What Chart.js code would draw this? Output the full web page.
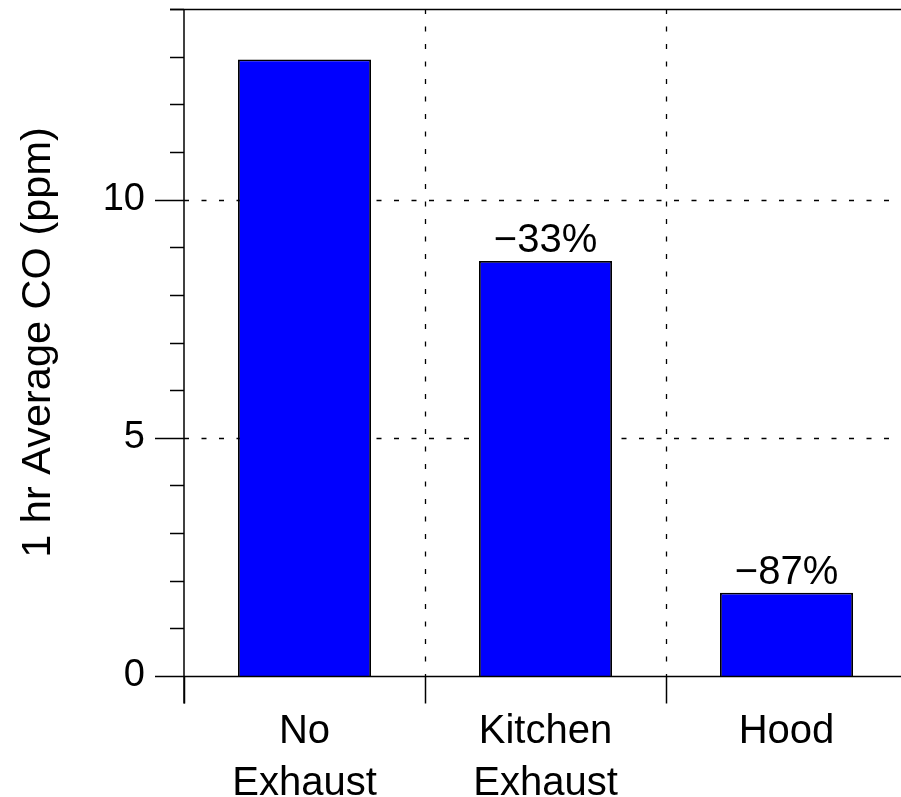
<!DOCTYPE html>
<html>
<head>
<meta charset="utf-8">
<script src="https://cdn.jsdelivr.net/npm/chart.js@4/dist/chart.umd.min.js"></script>
<style>
  html, body { margin: 0; padding: 0; background: #fff; overflow: hidden; }
  #wrap { width: 920px; height: 797px; }
</style>
</head>
<body>
<div id="wrap"><canvas id="c" width="920" height="797"></canvas></div>
<script>
const categories = [["No", "Exhaust"], ["Kitchen", "Exhaust"], ["Hood"]];
const coValues = [12.94, 8.71, 1.75];
const percentLabels = ["", "\u221233%", "\u221287%"];
const majorTicks = [0, 5, 10];
const yTitle = "1 hr Average CO (ppm)";

const FONT = "'Liberation Sans', Arial, Helvetica, sans-serif";

const decor = {
  id: 'decor',
  beforeDatasetsDraw(chart) {
    const ctx = chart.ctx;
    const ca = chart.chartArea;
    const x = chart.scales.x, y = chart.scales.y;
    ctx.save();
    ctx.strokeStyle = '#000';
    ctx.lineWidth = 1.3;
    ctx.setLineDash([5, 12.5]);
    majorTicks.forEach(v => {
      if (v === 0) return;
      const py = Math.round(y.getPixelForValue(v)) + 0.5;
      ctx.beginPath(); ctx.moveTo(ca.left, py); ctx.lineTo(ca.right, py); ctx.stroke();
    });
    for (let i = 0; i < categories.length - 1; i++) {
      const px = Math.round((x.getPixelForValue(i) + x.getPixelForValue(i + 1)) / 2) + 0.5;
      ctx.beginPath(); ctx.moveTo(px, ca.top); ctx.lineTo(px, ca.bottom); ctx.stroke();
    }
    ctx.restore();
  },
  afterDatasetsDraw(chart) {
    const ctx = chart.ctx;
    const ca = chart.chartArea;
    const x = chart.scales.x, y = chart.scales.y;
    ctx.save();
    ctx.strokeStyle = '#000';
    ctx.lineWidth = 1.5;
    ctx.setLineDash([]);
    const left = ca.left;
    const top = Math.round(y.getPixelForValue(y.max)) + 0.5;
    const bot = Math.round(y.getPixelForValue(0)) + 0.5;
    ctx.beginPath(); ctx.moveTo(left, top); ctx.lineTo(left, bot + 27); ctx.stroke();
    ctx.beginPath(); ctx.moveTo(left, bot); ctx.lineTo(ca.right, bot); ctx.stroke();
    ctx.beginPath(); ctx.moveTo(left - 14, top); ctx.lineTo(ca.right, top); ctx.stroke();
    for (let v = 0; v <= y.max; v++) {
      const py = Math.round(y.getPixelForValue(v)) + 0.5;
      const len = majorTicks.includes(v) ? 29 : 14;
      ctx.beginPath(); ctx.moveTo(left - len, py); ctx.lineTo(left, py); ctx.stroke();
    }
    const step = x.getPixelForValue(1) - x.getPixelForValue(0);
    for (let i = 0; i < categories.length; i++) {
      const px = Math.round(x.getPixelForValue(i) - step / 2) + 0.5;
      ctx.beginPath(); ctx.moveTo(px, bot); ctx.lineTo(px, bot + 27); ctx.stroke();
    }
    const meta = chart.getDatasetMeta(0);
    ctx.fillStyle = '#000';
    ctx.font = '40px ' + FONT;
    ctx.textAlign = 'center';
    ctx.textBaseline = 'alphabetic';
    meta.data.forEach((bar, i) => {
      if (percentLabels[i]) ctx.fillText(percentLabels[i], bar.x, bar.y - 9);
    });
    ctx.restore();
  }
};

new Chart(document.getElementById('c'), {
  type: 'bar',
  data: {
    labels: categories,
    datasets: [{
      data: coValues,
      backgroundColor: '#0000FF',
      borderColor: '#000',
      borderWidth: 1.8,
      categoryPercentage: 1,
      barPercentage: 0.552
    }]
  },
  options: {
    responsive: false,
    animation: false,
    layout: { padding: { top: 9, right: 13, left: 0, bottom: 0 } },
    plugins: { legend: { display: false }, tooltip: { enabled: false } },
    scales: {
      x: {
        grid: { display: false, drawTicks: false },
        border: { display: false },
        ticks: {
          color: '#000',
          font: { family: FONT, size: 40, lineHeight: 1.3 },
          padding: 30,
          maxRotation: 0,
          autoSkip: false
        },
        afterFit(s) { s.height = 121; s.paddingLeft = 0; s.paddingRight = 0; s.paddingTop = 0; s.paddingBottom = 0; }
      },
      y: {
        min: 0,
        max: 14,
        grid: { display: false, drawTicks: false },
        border: { display: false },
        ticks: {
          stepSize: 1,
          color: '#000',
          font: { family: FONT, size: 38 },
          padding: 39,
          callback: v => majorTicks.includes(v) ? String(v) : null
        },
        title: {
          display: true,
          text: yTitle,
          color: '#000',
          font: { family: FONT, size: 41.5 },
          padding: { top: 14, bottom: 0 }
        },
        afterFit(s) { s.width = 184; s.paddingTop = 0; s.paddingBottom = 0; s.paddingLeft = 0; s.paddingRight = 0; }
      }
    }
  },
  plugins: [decor]
});
</script>
</body>
</html>
